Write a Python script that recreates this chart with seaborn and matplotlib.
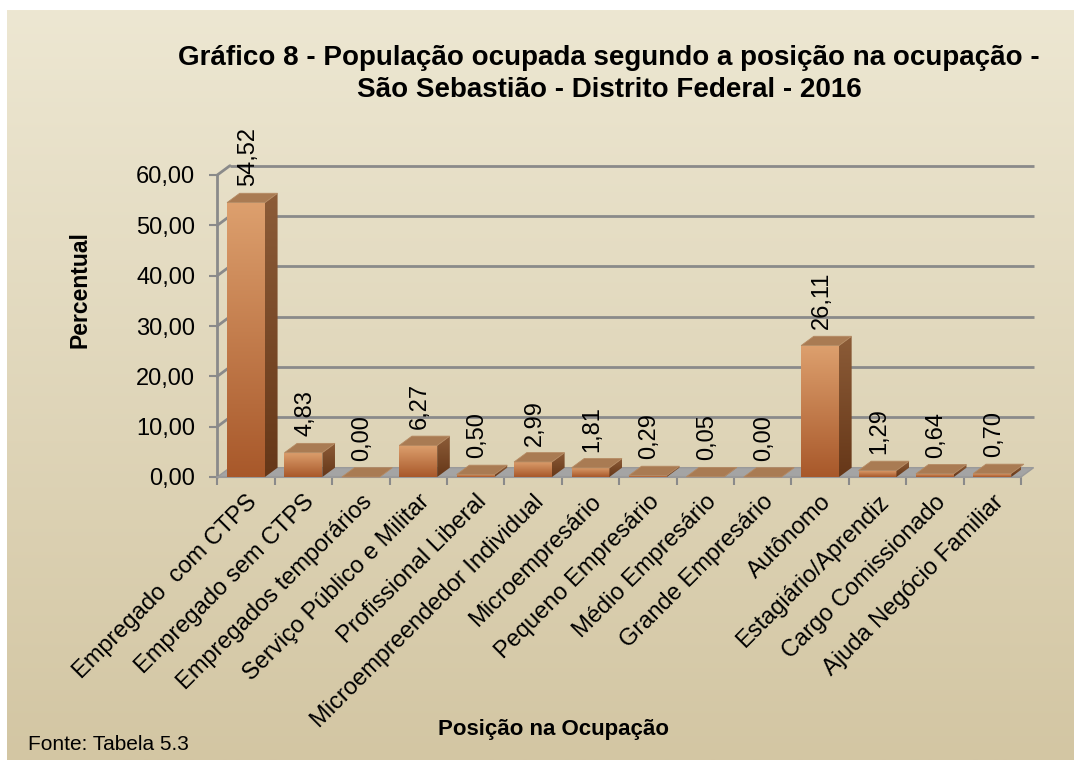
import numpy as np
import pandas as pd
import seaborn as sns
import matplotlib.pyplot as plt
from matplotlib.colors import LinearSegmentedColormap
from matplotlib.patches import Polygon

# data
categories = ["Empregado  com CTPS", "Empregado sem CTPS", "Empregados temporários",
              "Serviço Público e Militar", "Profissional Liberal", "Microempreendedor Individual",
              "Microempresário", "Pequeno Empresário", "Médio Empresário", "Grande Empresário",
              "Autônomo", "Estagiário/Aprendiz", "Cargo Comissionado", "Ajuda Negócio Familiar"]
percentual = [54.52, 4.83, 0.00, 6.27, 0.50, 2.99, 1.81, 0.29, 0.05, 0.00, 26.11, 1.29, 0.64, 0.70]
y_ticks = [0, 10, 20, 30, 40, 50, 60]

title_1 = "Gráfico 8 - População ocupada segundo a posição na ocupação -"
title_2 = "São Sebastião - Distrito Federal - 2016"
x_label = "Posição na Ocupação"
y_label = "Percentual"
source = "Fonte: Tabela 5.3"


def fmt(v):
    return ("%.2f" % v).replace(".", ",")


if __name__ == '__main__':
    sns.set_style("white")
    plt.rcParams['font.family'] = ['Liberation Sans', 'DejaVu Sans']
    plt.rcParams['text.color'] = 'black'

    W, H = 1074, 760
    fig = plt.figure(figsize=(W / 100, H / 100), dpi=100)
    fig.patch.set_facecolor("white")

    # background gradient panel
    bg = fig.add_axes([7 / W, 0, 1 - 7 / W, 1 - 10 / H], zorder=0)
    grad = np.linspace(0, 1, 256).reshape(-1, 1)
    bg_cmap = LinearSegmentedColormap.from_list("bg", ["#ede7d2", "#d3c6a3"])
    bg.imshow(grad, aspect="auto", cmap=bg_cmap, extent=[0, 1, 0, 1], origin="upper")
    bg.set_xlim(0, 1)
    bg.set_ylim(0, 1)
    bg.axis("off")

    # main axes (front plane of the 3d box)
    x_left, x_right = 217.3, 1021
    y_zero, y_top = 477, 175
    ax = fig.add_axes([x_left / W, (H - y_zero) / H, (x_right - x_left) / W, (y_zero - y_top) / H], zorder=1)
    ax.set_facecolor("none")

    # depth in data units
    DX = 0.22
    DY = 1.85
    grid_color = "#8a8a8a"
    n = len(categories)

    df = pd.DataFrame({"posicao": categories, "percentual": percentual})
    sns.barplot(data=df, x="posicao", y="percentual", width=0.66, color="#c07a48",
                errorbar=None, ax=ax, zorder=3, linewidth=0)

    front_cmap = LinearSegmentedColormap.from_list("front", ["#dda06e", "#a8582a"])
    side_cmap = LinearSegmentedColormap.from_list("side", ["#8c5c38", "#663718"])
    top_color = "#a97b53"

    for p in list(ax.patches):
        x0 = p.get_x()
        w = p.get_width()
        h = p.get_height()
        x1 = x0 + w
        p.set_facecolor("none")
        if h > 0:
            im = ax.imshow(grad, aspect="auto", cmap=front_cmap, origin="upper",
                           extent=[x0, x1, 0, h], zorder=3)
            im.set_clip_path(p)
        side = Polygon([(x1, 0), (x1 + DX, DY), (x1 + DX, h + DY), (x1, h)], closed=True,
                       facecolor="none", edgecolor="none", transform=ax.transData)
        ax.add_patch(side)
        side.set_clip_on(False)
        im2 = ax.imshow(grad, aspect="auto", cmap=side_cmap, origin="upper",
                        extent=[x1, x1 + DX, 0, h + DY], zorder=3)
        im2.set_clip_path(side)
        top = Polygon([(x0, h), (x1, h), (x1 + DX, h + DY), (x0 + DX, h + DY)], closed=True,
                      facecolor=top_color, edgecolor="#b58a62", linewidth=0.6, zorder=3.5,
                      clip_on=False)
        ax.add_patch(top)

    # floor
    floor = Polygon([(-0.5, 0), (n - 0.5, 0), (n - 0.5 + DX, DY), (-0.5 + DX, DY)], closed=True,
                    facecolor="#a4a4a4", edgecolor="#9a9a9a", linewidth=1, zorder=1.5, clip_on=False)
    ax.add_patch(floor)

    # back wall gridlines + side wall connectors
    for t in y_ticks[1:]:
        ax.plot([-0.5 + DX, n - 0.5 + DX], [t + DY, t + DY], color=grid_color, lw=2,
                zorder=1, clip_on=False, solid_capstyle="butt")
        ax.plot([-0.5, -0.5 + DX], [t, t + DY], color=grid_color, lw=2, zorder=1, clip_on=False)
    ax.plot([-0.5, -0.5], [0, y_ticks[-1]], color=grid_color, lw=2, zorder=2, clip_on=False)
    ax.plot([-0.5, n - 0.5], [0, 0], color="#9a9a9a", lw=1.5, zorder=2, clip_on=False)

    ax.set_xlim(-0.5, n - 0.5)
    ax.set_ylim(0, y_ticks[-1])
    for s in ax.spines.values():
        s.set_visible(False)

    ax.set_yticks(y_ticks)
    ax.set_yticklabels([fmt(t) for t in y_ticks], fontsize=17)
    ax.tick_params(axis="y", length=6, width=1.5, color=grid_color, pad=10, left=True, labelcolor="black")
    ax.set_xticks(np.arange(n))
    ax.set_xticks(np.arange(n + 1) - 0.5, minor=True)
    ax.tick_params(axis="x", which="major", length=0, pad=10, labelcolor="black")
    ax.tick_params(axis="x", which="minor", length=6, width=1.5, color=grid_color, bottom=True)
    ax.set_xticklabels(categories, rotation=45, ha="right", va="top", rotation_mode="anchor", fontsize=17)
    ax.set_xlabel("")
    ax.set_ylabel("")

    # value labels
    for i, v in enumerate(percentual):
        ax.annotate(fmt(v), xy=(i + 0.03, v + DY), xytext=(0, 5), textcoords="offset points",
                    rotation=90, ha="center", va="bottom", fontsize=17, zorder=5,
                    annotation_clip=False)

    # texts
    fig.text(0.567, 1 - 65 / H, title_1, ha="center", va="baseline", fontsize=20, fontweight="bold")
    fig.text(0.567, 1 - 97 / H, title_2, ha="center", va="baseline", fontsize=20, fontweight="bold")
    fig.text(80.5 / W, 1 - 290 / H, y_label, rotation=90, ha="center", va="center",
             fontsize=16.5, fontweight="bold")
    fig.text(553 / W, 1 - 735 / H, x_label, ha="center", va="baseline", fontsize=16, fontweight="bold")
    fig.text(28 / W, 1 - 750 / H, source, ha="left", va="baseline", fontsize=15)

    fig.savefig("out.png", dpi=100)
